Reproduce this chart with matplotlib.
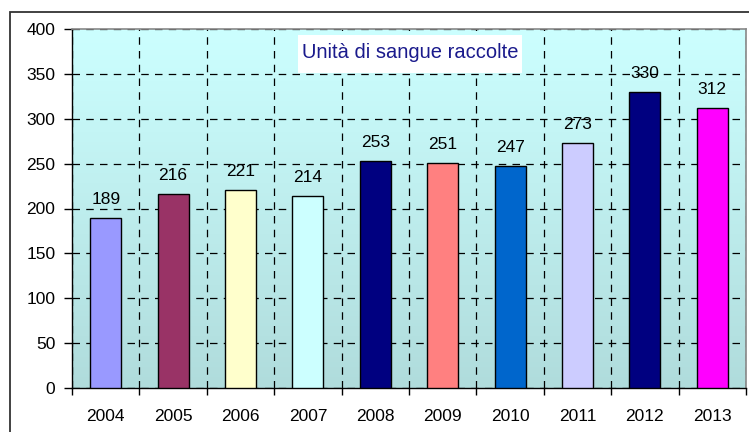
import numpy as np
import matplotlib.pyplot as plt
from matplotlib.patches import Rectangle

# data
years = ['2004', '2005', '2006', '2007', '2008', '2009', '2010', '2011', '2012', '2013']
units = [189, 216, 221, 214, 253, 251, 247, 273, 330, 312]
colors = ['#9999FF', '#993366', '#FFFFCC', '#CCFFFF', '#000080',
          '#FF8080', '#0066CC', '#CCCCFF', '#000080', '#FF00FF']
title = 'Unità di sangue raccolte'

plt.rcParams['font.family'] = ['Liberation Sans', 'DejaVu Sans']

W, H = 749, 432
fig = plt.figure(figsize=(W / 100, H / 100), dpi=100)
ax = fig.add_axes([72 / W, (H - 388) / H, (746 - 72) / W, (388 - 29) / H])

# outer chart frame (runs off the bottom/right of the image)
fig.patches.append(Rectangle((10 / W, -0.1), 1.2, (H - 12) / H + 0.1,
                             transform=fig.transFigure, fill=False,
                             edgecolor='#333333', linewidth=1.3, zorder=0))

# gradient background of the plot area
grad = np.linspace(0, 1, 256).reshape(-1, 1)
top = np.array([0xCC, 0xFF, 0xFF]) / 255
bot = np.array([0xB0, 0xDC, 0xDC]) / 255
img = top + (bot - top) * grad[:, :, None]
ax.imshow(img, extent=[-0.5, 9.5, 0, 400], aspect='auto', zorder=0)

x = np.arange(len(years))
ax.bar(x, units, width=0.46, color=colors, edgecolor='black', linewidth=1.0, zorder=3)

for xi, v in zip(x, units):
    ax.annotate(str(v), (xi, v), xytext=(0, 8), textcoords='offset points',
                ha='center', va='bottom', fontsize=12.5, zorder=4)

ax.set_xlim(-0.5, 9.5)
ax.set_ylim(0, 400)
ax.set_yticks(range(0, 401, 50))
ax.set_xticks(x)
ax.set_xticklabels(years)
ax.set_xticks(np.arange(-0.5, 10, 1), minor=True)
ax.tick_params(axis='x', which='major', length=0, pad=15, labelsize=12.5)
ax.tick_params(axis='x', which='minor', length=5, width=1.0, direction='out')
ax.tick_params(axis='y', length=6, width=1.0, pad=6, labelsize=12.5)

ax.grid(axis='y', linestyle=(0, (6, 5)), color='black', linewidth=0.9, zorder=1)
ax.grid(axis='x', which='minor', linestyle=(0, (6, 5)), color='black', linewidth=0.9, zorder=1)
ax.set_axisbelow(True)

for s in ['top', 'right']:
    ax.spines[s].set_color('#888888')
    ax.spines[s].set_linewidth(1.2)
for s in ['left', 'bottom']:
    ax.spines[s].set_color('black')
    ax.spines[s].set_linewidth(1.0)

# title box in pixel coordinates
fig.patches.append(Rectangle((298 / W, (H - 73) / H), 224 / W, 38 / H,
                             transform=fig.transFigure, facecolor='white',
                             edgecolor='none', zorder=5))
fig.text(410 / W, (H - 52) / H, title, ha='center', va='center',
         fontsize=14.5, color='#1A1A8C', zorder=6)

fig.savefig('out.png', dpi=100)
